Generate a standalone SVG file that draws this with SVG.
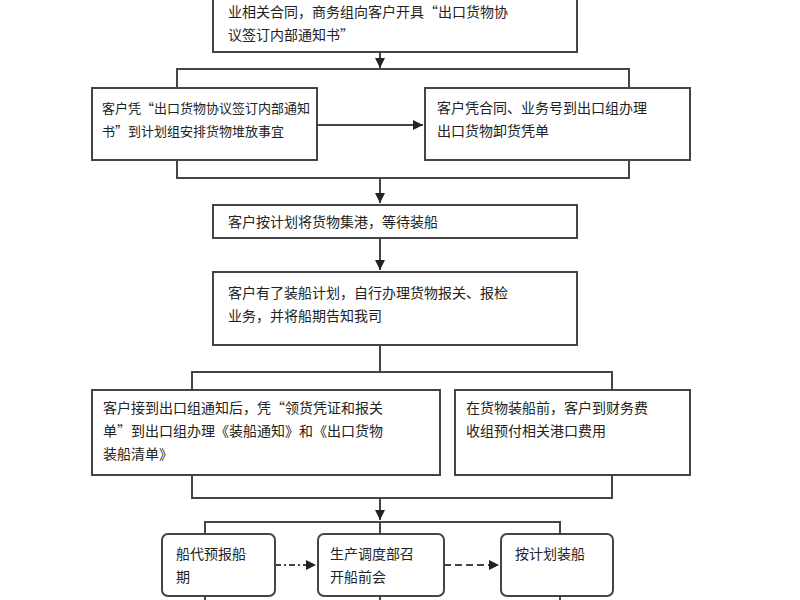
<svg xmlns="http://www.w3.org/2000/svg" width="800" height="600" viewBox="0 0 800 600">
<style>
.b{fill:#fff;stroke:#444;stroke-width:2}
.l{fill:none;stroke:#444;stroke-width:2}
text{font-family:"Noto Sans CJK SC",sans-serif;font-size:14px;fill:#222}
.s{font-size:13px}
</style>
<defs><marker id="a" viewBox="0 0 10 10" refX="10" refY="5" markerWidth="5" markerHeight="5" orient="auto"><path d="M0,0L10,5L0,10z" fill="#222"/></marker></defs>
<rect width="800" height="600" fill="#fff"/>
<g id="n1"><rect class="b" x="213" y="-10" width="364" height="62"/><text x="228" y="17">业相关合同，商务组向客户开具“出口货物协</text><text x="228" y="40">议签订内部通知书”</text></g>
<g id="n2"><rect class="b" x="92" y="88" width="225" height="72"/><text class="s" x="102" y="113">客户凭“出口货物协议签订内部通知</text><text class="s" x="102" y="136">书”到计划组安排货物堆放事宜</text></g>
<g id="n3"><rect class="b" x="425" y="88" width="265" height="72"/><text x="437" y="113">客户凭合同、业务号到出口组办理</text><text x="437" y="136">出口货物卸货凭单</text></g>
<g id="n4"><rect class="b" x="213" y="205" width="364" height="33"/><text x="228" y="227">客户按计划将货物集港，等待装船</text></g>
<g id="n5"><rect class="b" x="213" y="272" width="364" height="73"/><text x="228" y="298">客户有了装船计划，自行办理货物报关、报检</text><text x="228" y="321">业务，并将船期告知我司</text></g>
<g id="n6"><rect class="b" x="92" y="390" width="348" height="85"/><text x="103" y="413">客户接到出口组通知后，凭“领货凭证和报关</text><text x="103" y="436">单”到出口组办理《装船通知》和《出口货物</text><text x="103" y="459">装船清单》</text></g>
<g id="n7"><rect class="b" x="455" y="390" width="235" height="85"/><text x="466" y="413">在货物装船前，客户到财务费</text><text x="466" y="436">收组预付相关港口费用</text></g>
<g id="n8"><rect class="b" x="162" y="534" width="113" height="62" rx="6"/><text x="176" y="559">船代预报船</text><text x="176" y="582">期</text></g>
<g id="n9"><rect class="b" x="318" y="534" width="126" height="62" rx="6"/><text x="330" y="559">生产调度部召</text><text x="330" y="582">开船前会</text></g>
<g id="n10"><rect class="b" x="501" y="534" width="112" height="62" rx="6"/><text x="515" y="559">按计划装船</text></g>
<g id="connectors">
<path class="l" d="M380,52V68" marker-end="url(#a)"/>
<path class="l" d="M177,88V69H629V88"/>
<path class="l" d="M177,160V178H629V160"/>
<path class="l" d="M317,125H423" marker-end="url(#a)"/>
<path class="l" d="M380,178V203" marker-end="url(#a)"/>
<path class="l" d="M380,238V270" marker-end="url(#a)"/>
<path class="l" d="M380,345V372"/>
<path class="l" d="M192,390V372H612V390"/>
<path class="l" d="M192,475V498H612V475"/>
<path class="l" d="M380,498V520" marker-end="url(#a)"/>
<path class="l" d="M205,534V522H560V534"/>
<path class="l" d="M380,522V534"/>
<path class="l" d="M205,596V600M380,596V600M560,596V600"/>
<path class="l" d="M275,565H316" stroke-dasharray="6,3,2,3" marker-end="url(#a)"/>
<path class="l" d="M444,565H499" stroke-dasharray="7,4" marker-end="url(#a)"/>
</g>
</svg>
